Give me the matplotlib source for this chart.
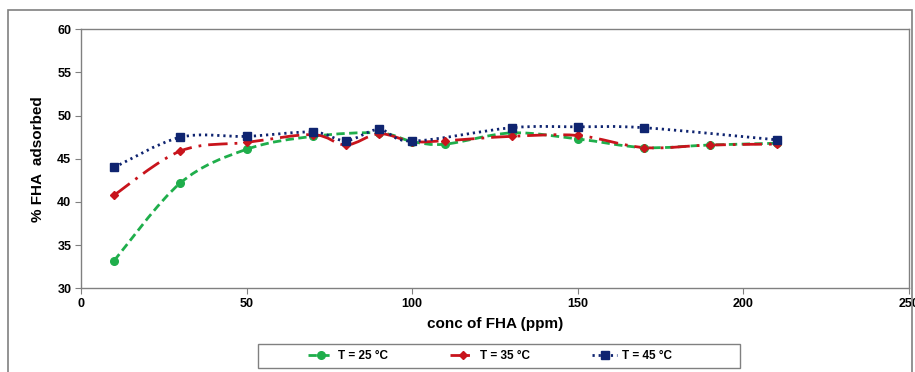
import numpy as np
import matplotlib
matplotlib.use("Agg")
import matplotlib.pyplot as plt
from matplotlib.path import Path
from matplotlib.patches import PathPatch, Rectangle
from matplotlib.lines import Line2D

plt.rcParams['font.family'] = ['Liberation Sans', 'DejaVu Sans']

# data
x25 = [10, 30, 50, 70, 90, 100, 110, 130, 150, 170, 190, 210]
y25 = [33.2, 42.2, 46.1, 47.6, 48.0, 47.0, 46.7, 48.0, 47.3, 46.3, 46.6, 46.8]

x35 = [10, 30, 50, 70, 80, 90, 100, 110, 130, 150, 170, 190, 210]
y35 = [40.8, 45.9, 46.9, 47.8, 46.6, 47.9, 47.0, 47.1, 47.6, 47.7, 46.3, 46.6, 46.7]

x45 = [10, 30, 50, 70, 80, 90, 100, 130, 150, 170, 210]
y45 = [44.0, 47.5, 47.6, 48.1, 47.1, 48.4, 47.05, 48.6, 48.7, 48.6, 47.2]

labels = ['T = 25 °C', 'T = 35 °C', 'T = 45 °C']
xticks = [0, 50, 100, 150, 200, 250]
yticks = [30, 35, 40, 45, 50, 55, 60]


def smooth_path(x, y, t=1/6):
    # Excel-style smoothed line as a cubic Bezier path
    pts = np.column_stack([x, y]).astype(float)
    n = len(pts)
    verts = [pts[0]]
    codes = [Path.MOVETO]
    for i in range(n - 1):
        p0 = pts[max(i - 1, 0)]
        p1 = pts[i]
        p2 = pts[i + 1]
        p3 = pts[min(i + 2, n - 1)]
        verts += [p1 + (p2 - p0) * t, p2 - (p3 - p1) * t, p2]
        codes += [Path.CURVE4] * 3
    return Path(verts, codes)


fig = plt.figure(figsize=(9.15, 3.72), dpi=100)
fig.patches.append(Rectangle((8/915, -0.1), 904/915, 1.1 - 10/372, transform=fig.transFigure,
                             fill=False, edgecolor='#808080', lw=1.2))
# legend frame (Excel draws it wider than the entries)
fig.patches.append(Rectangle((258/915, 1 - 368/372), 482/915, 24/372, transform=fig.transFigure,
                             fill=False, edgecolor='#808080', lw=1.0))
ax = fig.add_axes([81/915, 1 - 288.3/372, 828/915, 259/372])

series = [
    (x25, y25, '#1fae4b', (0, (3, 1.6)), 'o', 5.5),
    (x35, y35, '#c8141c', (0, (7, 2.5, 1, 2.5)), 'D', 4.0),
    (x45, y45, '#0f2470', (0, (0.8, 1.4)), 's', 5.5),
]
handles = []
for (xs, ys, c, ls, m, ms), lab in zip(series, labels):
    ax.add_patch(PathPatch(smooth_path(xs, ys), fill=False, edgecolor=c, lw=2.0,
                           linestyle=ls, zorder=2))
    ax.plot(xs, ys, ls='none', marker=m, ms=ms, color=c, zorder=3)
    handles.append(Line2D([], [], color=c, lw=2.0, linestyle=ls, marker=m, ms=ms))

ax.set_xlim(0, 250)
ax.set_ylim(30, 60)
ax.set_xticks(xticks)
ax.set_yticks(yticks)
for s in ax.spines.values():
    s.set_color('#808080')
    s.set_linewidth(1.0)
ax.tick_params(direction='out', length=4, color='#808080', labelsize=9, pad=3)
for lb in ax.get_xticklabels() + ax.get_yticklabels():
    lb.set_fontweight('bold')

ax.set_xlabel('conc of FHA (ppm)', fontsize=11, fontweight='bold', labelpad=5)
ax.set_ylabel('% FHA  adsorbed', fontsize=11, fontweight='bold', labelpad=9)

leg = fig.legend(handles, labels, loc='center', bbox_to_anchor=(490/915, 1 - 356/372),
                 ncol=3, frameon=False, handlelength=2.1,
                 handletextpad=0.4, columnspacing=5.3, prop={'size': 8.5, 'weight': 'bold'},
                 borderpad=0.3, borderaxespad=0)

fig.savefig('out.png', dpi=100)
